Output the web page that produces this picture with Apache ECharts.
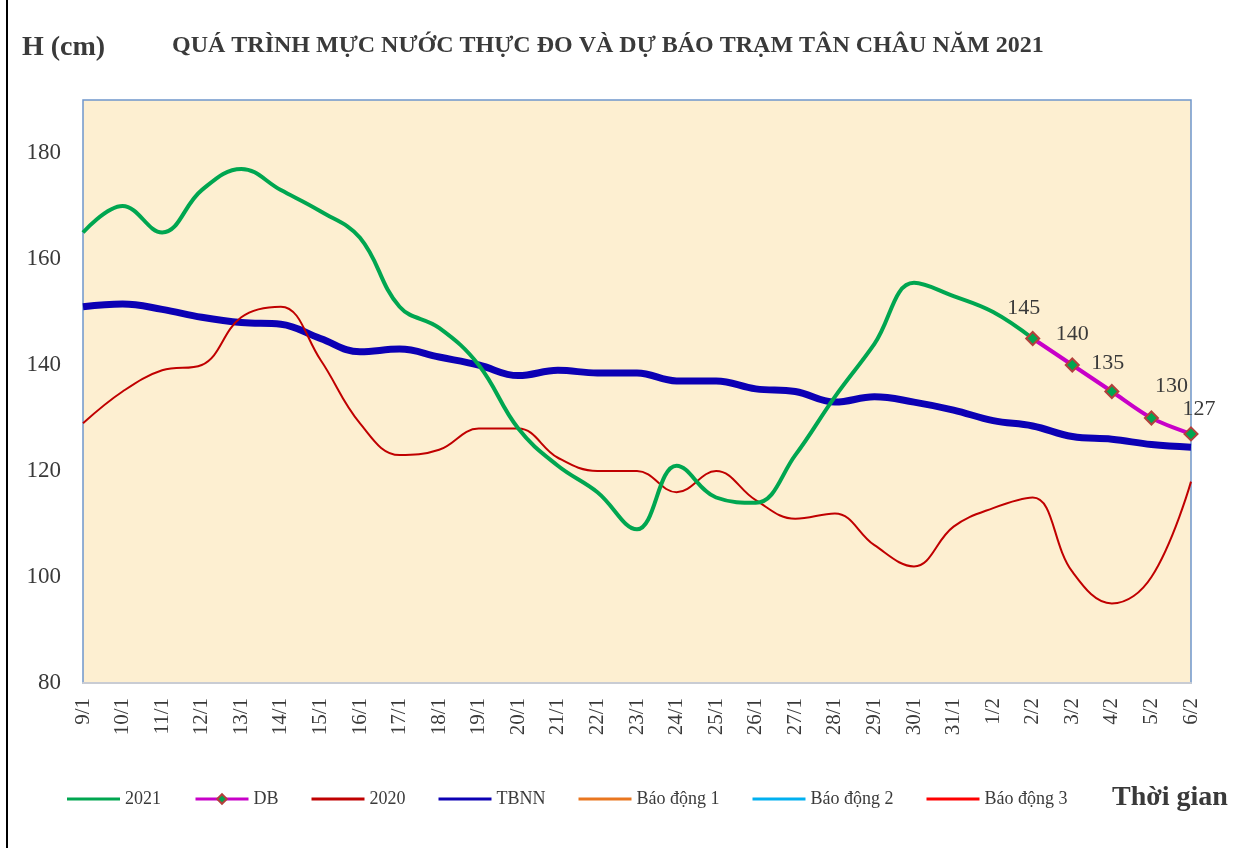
<!DOCTYPE html>
<html>
<head>
<meta charset="utf-8">
<title>Tân Châu 2021</title>
<script src="https://cdn.jsdelivr.net/npm/echarts@6.0.0/dist/echarts.min.js"></script>
<style>
  html, body { margin: 0; padding: 0; background: #fff; }
  #chartmain { width: 1241px; height: 848px; }
</style>
</head>
<body>
<div id="chartmain"></div>
<script>
// ngày (trục hoành)
var cate = ['9/1', '10/1', '11/1', '12/1', '13/1', '14/1', '15/1', '16/1', '17/1', '18/1',
  '19/1', '20/1', '21/1', '22/1', '23/1', '24/1', '25/1', '26/1', '27/1', '28/1',
  '29/1', '30/1', '31/1', '1/2', '2/2', '3/2', '4/2', '5/2', '6/2'];

// mực nước thực đo 2021 (đến 2/2)
var h2021 = [165, 170, 165, 173, 177, 173, 169, 164, 151, 147, 140, 128, 121, 116, 109,
  121, 115, 114, 123, 134, 144, 155.5, 153, 150, 145];

// dự báo, bắt đầu từ 2/2
var dbStart = 24;
var dbVals = [145, 140, 135, 130, 127];

// năm 2020
var h2020 = [129, 135, 139, 140, 149, 151, 141, 129, 123, 124, 128, 128, 122.5, 120, 120,
  116, 120, 114.5, 111, 112, 106, 102, 109.5, 113, 115, 101, 95, 100, 118];

// trung bình nhiều năm
var tbnn = [151, 151.5, 150.5, 149, 148, 147.7, 145, 142.5, 143, 141.5, 140, 138, 139, 138.5,
  138.5, 137, 137, 135.5, 135, 133, 134, 133, 131.5, 129.5, 128.5, 126.5, 126, 125, 124.5];

// y ticks
var yMin = 80, yMax = 190, yStep = 20;

var serif = "'Liberation Serif', 'Times New Roman', serif";
var txt = '#3a3a3a';
var lineIcon = 'path://M0,0 L53,0 L53,3 L0,3 Z';

// label nudges for the forecast points
var dbLabelOffset = [[-9, 0], [0, 0], [-4, 2], [20, -1], [8, 6]];

var db = [];
for (var i = 0; i < cate.length; i++) {
  var k = i - dbStart;
  if (k >= 0 && k < dbVals.length) {
    db.push({ value: dbVals[k], label: { offset: dbLabelOffset[k] } });
  } else {
    db.push(null);
  }
}

var option = {
  backgroundColor: '#ffffff',
  animation: false,
  graphic: [
    { type: 'line', shape: { x1: 7, y1: 0, x2: 7, y2: 848 }, style: { stroke: '#000', lineWidth: 2 } },
    { type: 'text', left: 22, top: 34, style: { text: 'H (cm)', font: 'bold 28px ' + serif, fill: txt } },
    { type: 'text', left: 172, top: 34, style: { text: 'QUÁ TRÌNH MỰC NƯỚC THỰC ĐO VÀ DỰ BÁO TRẠM TÂN CHÂU NĂM 2021', font: 'bold 24px ' + serif, fill: txt } },
    { type: 'text', left: 1112, top: 784, style: { text: 'Thời gian', font: 'bold 28px ' + serif, fill: txt } }
  ],
  legend: {
    left: 62,
    top: 785,
    itemWidth: 53,
    itemHeight: 12,
    itemGap: 33,
    symbolKeepAspect: true,
    lineStyle: { width: 3 },
    textStyle: { fontFamily: serif, fontSize: 18, color: txt },
    data: [
      { name: '2021', icon: lineIcon },
      { name: 'DB' },
      { name: '2020', icon: lineIcon },
      { name: 'TBNN', icon: lineIcon },
      { name: 'Báo động 1', icon: lineIcon },
      { name: 'Báo động 2', icon: lineIcon },
      { name: 'Báo động 3', icon: lineIcon }
    ]
  },
  grid: {
    left: 83, right: 50, top: 100, bottom: 165,
    show: true,
    backgroundColor: '#fdefd1',
    borderColor: '#6f97cc',
    borderWidth: 1.5,
    outerBoundsMode: 'none'
  },
  xAxis: [{
    type: 'category',
    data: cate,
    boundaryGap: false,
    axisLine: { lineStyle: { color: '#c9ccd3', width: 2 } },
    axisTick: { show: false },
    axisLabel: { interval: 0, rotate: 90, margin: 15, fontFamily: serif, fontSize: 21, color: txt }
  }],
  yAxis: [{
    type: 'value',
    min: yMin, max: yMax, interval: yStep,
    splitLine: { show: false },
    axisLine: { show: false },
    axisTick: { show: false },
    axisLabel: {
      margin: 22, fontFamily: serif, fontSize: 23, color: txt,
      formatter: function (v) { return v > 180 ? '' : v; }
    }
  }],
  series: [
    {
      name: '2021', type: 'line', data: h2021, smooth: 0.4,
      symbol: 'none', lineStyle: { color: '#00a650', width: 4 }, itemStyle: { color: '#00a650' }, z: 4
    },
    {
      name: 'DB', type: 'line', data: db, smooth: 0.3,
      symbol: 'diamond', symbolSize: 13, showAllSymbol: true,
      lineStyle: { color: '#c800c8', width: 4 },
      itemStyle: { color: '#00a650', borderColor: '#b3403c', borderWidth: 2 },
      label: { show: true, position: 'top', distance: 12, fontFamily: serif, fontSize: 22, color: txt },
      z: 6
    },
    {
      name: '2020', type: 'line', data: h2020, smooth: 0.4,
      symbol: 'none', lineStyle: { color: '#c00000', width: 2 }, itemStyle: { color: '#c00000' }, z: 3
    },
    {
      name: 'TBNN', type: 'line', data: tbnn, smooth: 0.4,
      symbol: 'none', lineStyle: { color: '#0c00b4', width: 7 }, itemStyle: { color: '#0c00b4' }, z: 2
    },
    { name: 'Báo động 1', type: 'line', data: [], symbol: 'none', lineStyle: { color: '#e9761f', width: 3 }, itemStyle: { color: '#e9761f' } },
    { name: 'Báo động 2', type: 'line', data: [], symbol: 'none', lineStyle: { color: '#00b0f0', width: 3 }, itemStyle: { color: '#00b0f0' } },
    { name: 'Báo động 3', type: 'line', data: [], symbol: 'none', lineStyle: { color: '#ff0000', width: 3 }, itemStyle: { color: '#ff0000' } }
  ]
};

var myChart = echarts.init(document.getElementById('chartmain'));
myChart.setOption(option);
</script>
</body>
</html>
